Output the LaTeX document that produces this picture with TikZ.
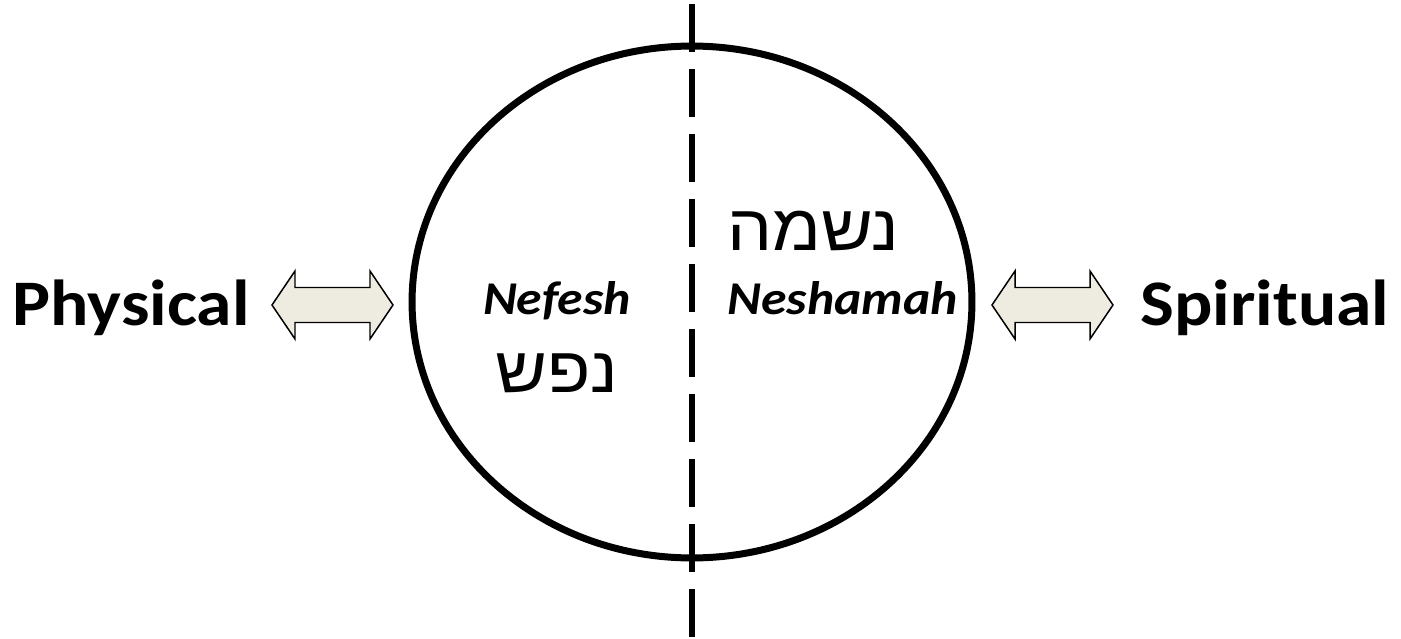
\documentclass[tikz,border=0pt]{standalone}
\usepackage{fontspec}
\setmainfont{Carlito}
\newfontfamily\hebfont[Script=Hebrew]{Liberation Sans}
\TeXXeTstate=1
\definecolor{arrowfill}{HTML}{EEECE1}
\tikzset{
  bigword/.style={anchor=base, inner sep=0pt, xscale=1.1, font=\fontsize{37}{44}\selectfont\bfseries},
  soulword/.style={anchor=base, inner sep=0pt, xscale=1.1, font=\fontsize{26.75}{32}\selectfont\bfseries\itshape},
  hebword/.style={anchor=base, inner sep=0pt, xscale=1.1, font=\fontsize{36.8}{44}\selectfont\hebfont},
  twoway/.style={draw=black, line width=0.85pt, fill=arrowfill, line join=miter},
}

\begin{document}
\begin{tikzpicture}[x=0.02cm, y=-0.02cm]
    \useasboundingbox (0,0) rectangle (1401,639);

    % the soul and the line through it
    \draw[line width=3.98pt] (692,302) ellipse [x radius=5.6cm, y radius=5.12cm];
    \coordinate (cuttop) at (692,4);
    \coordinate (cutbot) at (692,639);
    \draw[line width=3.4pt, dash pattern=on 0.96cm off 0.34cm] (cuttop) -- (cutbot);

    % two-way arrows
    \draw[twoway] (272,305) -- (295,271) -- (295,287.5) -- (370,287.5) -- (370,271)
        -- (393,305) -- (370,339) -- (370,322.5) -- (295,322.5) -- (295,339) -- cycle;
    \draw[twoway] (992,305) -- (1015,271) -- (1015,287.5) -- (1090,287.5) -- (1090,271)
        -- (1113,305) -- (1090,339) -- (1090,322.5) -- (1015,322.5) -- (1015,339) -- cycle;

    \node[bigword] (phys) at (131,325) {Physical};
    \node[bigword] (spir) at (1265,325) {Spiritual};

    \node[soulword] (nefesh) at (557,314) {Nefesh};
    \node[hebword] (nefeshheb) at (557,392) {\beginR נפש\endR};
    \node[soulword, anchor=base west] (neshamah) at (727,314) {Neshamah};
    \node[hebword, anchor=base west] (neshamahheb) at (727,250) {\beginR נשמה\endR};

\end{tikzpicture}
\end{document}
